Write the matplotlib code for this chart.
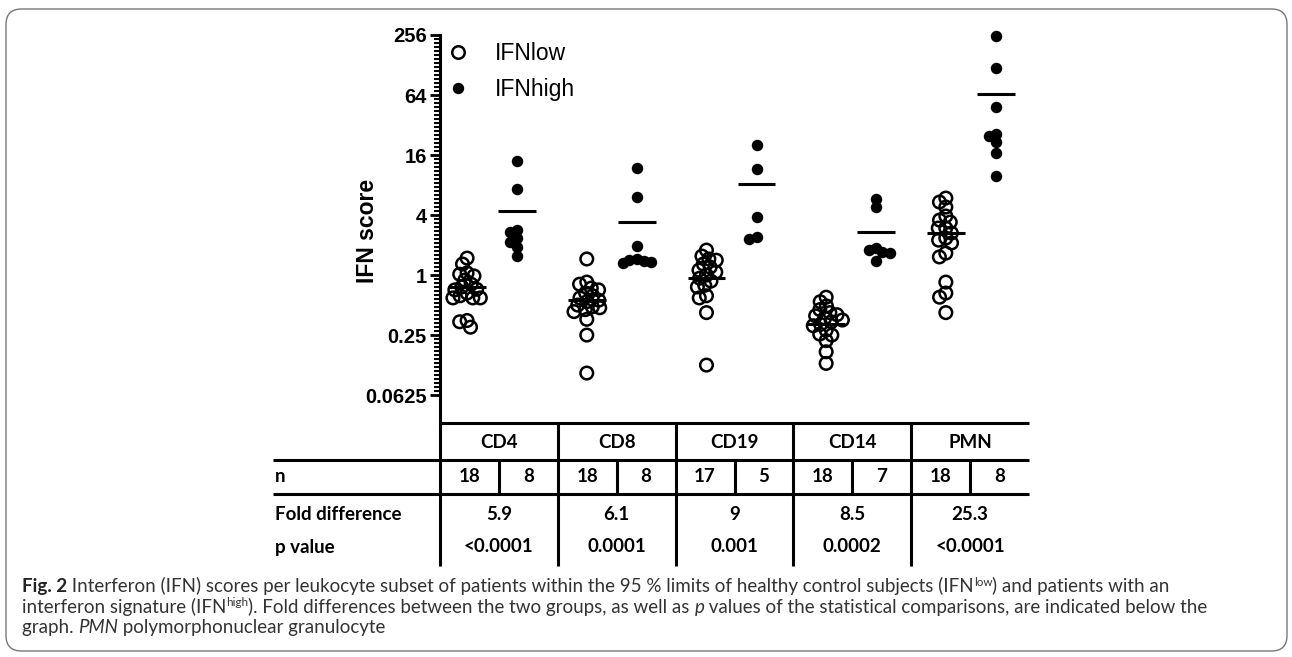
import numpy as np
import matplotlib
matplotlib.use("Agg")
import matplotlib.pyplot as plt
from matplotlib import transforms
from matplotlib.lines import Line2D
from matplotlib.patches import FancyBboxPatch

W, H = 1292, 657

# IFN scores (per subset, IFNlow / IFNhigh)
groups = ["CD4", "CD8", "CD19", "CD14", "PMN"]
cd4_low = [1.48, 1.29, 1.05, 1.02, 0.98, 0.89, 0.81, 0.76, 0.72, 0.71, 0.66, 0.62, 0.59, 0.59, 0.59, 0.35, 0.34, 0.30]
cd4_high = [13.9, 7.25, 2.83, 2.72, 2.33, 2.16, 1.90, 1.55]
cd8_low = [1.45, 0.85, 0.81, 0.74, 0.71, 0.66, 0.62, 0.59, 0.56, 0.54, 0.50, 0.48, 0.47, 0.45, 0.43, 0.36, 0.25, 0.104]
cd8_high = [11.85, 6.06, 1.95, 1.45, 1.41, 1.38, 1.35, 1.32]
cd19_low = [1.78, 1.55, 1.45, 1.41, 1.29, 1.20, 1.12, 1.07, 1.00, 0.93, 0.87, 0.79, 0.76, 0.62, 0.59, 0.42, 0.125]
cd19_high = [20.2, 11.6, 3.82, 2.41, 2.30]
cd14_low = [0.60, 0.54, 0.49, 0.45, 0.42, 0.40, 0.39, 0.37, 0.354, 0.34, 0.32, 0.31, 0.28, 0.256, 0.25, 0.22, 0.17, 0.13]
cd14_high = [5.79, 4.81, 1.87, 1.78, 1.70, 1.66, 1.38]
pmn_low = [5.92, 5.40, 4.81, 3.91, 3.56, 3.40, 2.96, 2.96, 2.64, 2.35, 2.24, 2.10, 1.66, 1.52, 0.85, 0.66, 0.60, 0.42]
pmn_high = [252, 118.6, 48.2, 26.0, 24.8, 21.8, 16.6, 9.85]
low_vals = [cd4_low, cd8_low, cd19_low, cd14_low, pmn_low]
high_vals = [cd4_high, cd8_high, cd19_high, cd14_high, pmn_high]
means_low = [0.76, 0.56, 0.93, 0.32, 2.66]
means_high = [4.4, 3.4, 8.2, 2.68, 65]

# table below the graph
n_low = [18, 18, 17, 18, 18]
n_high = [8, 8, 5, 7, 8]
fold_diff = ["5.9", "6.1", "9", "8.5", "25.3"]
p_values = ["<0.0001", "0.0001", "0.001", "0.0002", "<0.0001"]

yticks = [0.0625, 0.25, 1, 4, 16, 64, 256]
ytick_labels = ["0.0625", "0.25", "1", "4", "16", "64", "256"]

# caption pieces: (text, kind)
caption = [
    [("Fig. 2", "bold"),
     (" Interferon (IFN) scores per leukocyte subset of patients within the 95 % limits of healthy control subjects (IFN", "reg"),
     ("low", "sup"), (") and patients with an", "reg")],
    [("interferon signature (IFN", "reg"), ("high", "sup"),
     ("). Fold differences between the two groups, as well as ", "reg"), ("p", "ital"),
     (" values of the statistical comparisons, are indicated below the", "reg")],
    [("graph. ", "reg"), ("PMN", "ital"), (" polymorphonuclear granulocyte", "reg")],
]


def fx(px):
    return px / W


def fy(py):
    return 1 - py / H


PX_PER_X = (1029 - 440) / 5.0
PX_PER_LOG2 = 30.0


def swarm(vals, d=7.5):
    # simple beeswarm in pixel space, returns x offsets in data units
    ypx = np.log2(vals) * PX_PER_LOG2
    offs = np.zeros(len(vals))
    placed = []
    for k in np.argsort(-ypx):
        y = ypx[k]
        near = [(xj, yj) for xj, yj in placed if abs(yj - y) < d]
        cands = [0.0]
        for xj, yj in near:
            r = np.sqrt(d * d - (yj - y) ** 2)
            cands += [xj - r, xj + r]
        cands.sort(key=lambda c: (abs(c), c))
        for c in cands:
            if all((c - xj) ** 2 + (y - yj) ** 2 >= d * d - 1e-6 for xj, yj in near):
                offs[k] = c
                placed.append((c, y))
                break
    return offs / PX_PER_X


fig = plt.figure(figsize=(W / 100, H / 100), dpi=100)
ax = fig.add_axes([fx(440), fy(423), (1029 - 440) / W, (423 - 35) / H])
ax.set_yscale("log", base=2)
ax.set_xlim(0, 5)
ax.set_ylim(2 ** -4.93, 256)

step = 1.016
for i in range(len(groups)):
    xl = 0.23 + step * i
    xh = 0.655 + step * i
    lv = np.array(low_vals[i])
    hv = np.array(high_vals[i])
    ax.scatter(xl + swarm(lv), lv, s=82, facecolors="none", edgecolors="black",
               linewidths=1.8, zorder=3, clip_on=False)
    ax.scatter(xh + swarm(hv), hv, s=68, color="black", linewidths=0, zorder=3, clip_on=False)
    ax.plot([xl - 0.16, xl + 0.16], [means_low[i]] * 2, color="black", lw=2.2, zorder=4,
            solid_capstyle="butt")
    ax.plot([xh - 0.16, xh + 0.16], [means_high[i]] * 2, color="black", lw=2.2, zorder=4,
            solid_capstyle="butt")

ax.set_yticks(yticks, ytick_labels)
minor = [2 ** (k * 2 / 15.0) for k in range(-30, 61) if k % 15 != 0]
ax.yaxis.set_minor_locator(matplotlib.ticker.FixedLocator(minor))
ax.yaxis.set_minor_formatter(matplotlib.ticker.NullFormatter())
ax.tick_params(axis="y", which="major", length=7.5, width=2, pad=2)
ax.tick_params(axis="y", which="minor", length=4, width=1.5)
ax.tick_params(axis="x", bottom=False, labelbottom=False)
for lbl in ax.get_yticklabels():
    lbl.set_fontfamily("Liberation Sans")
    lbl.set_fontweight("bold")
    lbl.set_fontsize(14.5)
for s in ["top", "right", "bottom"]:
    ax.spines[s].set_visible(False)
ax.spines["left"].set_linewidth(2.2)

ax.set_ylabel("IFN score", fontfamily="Liberation Sans", fontweight="bold", fontsize=16.5, va="center")
ax.yaxis.set_label_coords((367 - 440) / (1029 - 440), 0.495)

handles = [
    Line2D([], [], marker="o", ls="none", ms=9, mfc="none", mec="black", mew=1.8),
    Line2D([], [], marker="o", ls="none", ms=8.2, mfc="black", mec="black", mew=0),
]
ax.legend(handles, ["IFNlow", "IFNhigh"], loc="upper left", frameon=False,
          bbox_to_anchor=(fx(447), fy(42)), bbox_transform=fig.transFigure,
          borderpad=0, borderaxespad=0, handlelength=1.0, handletextpad=1.1,
          labelspacing=0.55, prop={"family": "Liberation Sans", "size": 16.5})

# table
tr = transforms.blended_transform_factory(ax.transData, fig.transFigure)
xl_row = (273 - 440) / PX_PER_X


def hline(y, x0, x1):
    fig.add_artist(Line2D([x0, x1], [fy(y)] * 2, transform=tr, color="black", lw=2.2,
                          solid_capstyle="butt"))


def vline(x, y0, y1):
    fig.add_artist(Line2D([x, x], [fy(y0), fy(y1)], transform=tr, color="black", lw=2.2,
                          solid_capstyle="butt"))


hline(423, 0, 5)
hline(460, xl_row, 5)
hline(494, xl_row, 5)
for i in range(5):
    vline(i, 423, 566)
    vline(i + 0.5, 460, 494)

tfont = {"family": "Lato", "weight": "bold", "size": 13.5}
for i, g in enumerate(groups):
    fig.text(i + 0.5, fy(442), g, transform=tr, ha="center", va="center", **tfont)
    fig.text(i + 0.25, fy(477), str(n_low[i]), transform=tr, ha="center", va="center", **tfont)
    fig.text(i + 0.75, fy(477), str(n_high[i]), transform=tr, ha="center", va="center", **tfont)
    fig.text(i + 0.5, fy(515), fold_diff[i], transform=tr, ha="center", va="center", **tfont)
    fig.text(i + 0.5, fy(547), p_values[i], transform=tr, ha="center", va="center", **tfont)
fig.text(xl_row + 0.02, fy(477), "n", transform=tr, ha="left", va="center", **tfont)
fig.text(xl_row + 0.02, fy(515), "Fold difference", transform=tr, ha="left", va="center", **tfont)
fig.text(xl_row + 0.02, fy(547), "p value", transform=tr, ha="left", va="center", **tfont)

# caption, pieces placed one after another
renderer = fig.canvas.get_renderer()
cap_size = 13.5
styles = {
    "reg": dict(family="Lato", fontsize=cap_size, color="#333333"),
    "bold": dict(family="Lato", fontsize=cap_size, fontweight="bold", color="#222222"),
    "ital": dict(family="Lato", fontsize=cap_size, fontstyle="italic", color="#333333"),
    "sup": dict(family="Lato", fontsize=cap_size * 0.62, color="#333333"),
}


def piece_width(s, kw):
    t1 = fig.text(0, 0, "|" + s + "|", **kw)
    t0 = fig.text(0, 0, "||", **kw)
    w = t1.get_window_extent(renderer).width - t0.get_window_extent(renderer).width
    t1.remove()
    t0.remove()
    return w


for k, pieces in enumerate(caption):
    x = 22.0
    base = 592 + 20.5 * k
    for s, kind in pieces:
        dy = -6.5 if kind == "sup" else 0
        fig.text(fx(x), fy(base + dy), s, ha="left", va="baseline", **styles[kind])
        x += piece_width(s, styles[kind])

# frame
fig.add_artist(FancyBboxPatch((fx(6), fy(651)), fx(1287) - fx(6), fy(9) - fy(651),
                              boxstyle="round,pad=0,rounding_size=0.012",
                              mutation_aspect=W / H, transform=fig.transFigure,
                              fc="none", ec="#777777", lw=1.0))

fig.savefig("out.png", dpi=100)
